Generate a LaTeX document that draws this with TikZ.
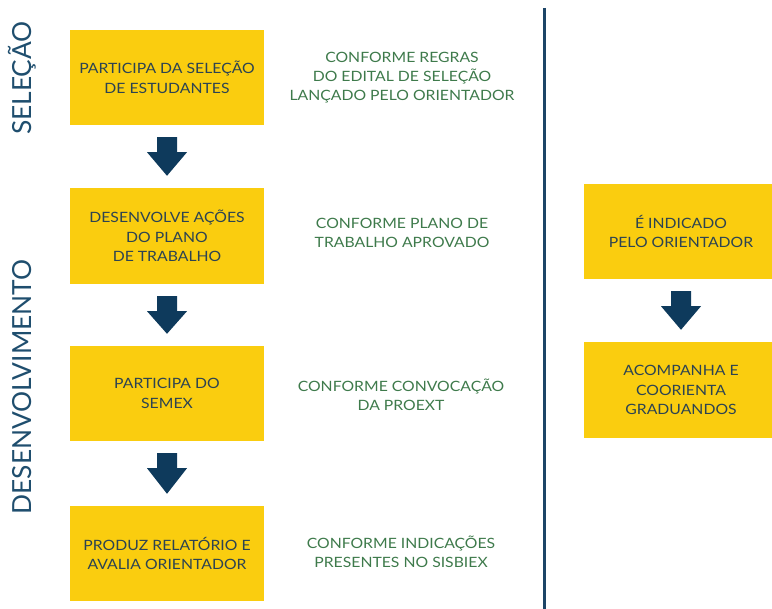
\documentclass[tikz,border=0pt]{standalone}
\usepackage{fontspec}
\setmainfont{Lato}[FakeStretch=1.11]
\newfontfamily\sidefont{Lato}
\usetikzlibrary{calc}
\definecolor{boxyellow}{HTML}{FACD0F}
\definecolor{boxtext}{HTML}{2C4352}
\definecolor{navy}{HTML}{0E3A5C}
\definecolor{linecol}{HTML}{1D4567}
\definecolor{greentext}{HTML}{3E7A4B}
\definecolor{sidecol}{HTML}{1F4E6E}
\tikzset{
  stepbox/.style={fill=boxyellow, draw=none, minimum width=194, minimum height=95,
    inner sep=0pt, align=center, text=boxtext, font=\fontsize{14.2}{19.5}\selectfont},
  note/.style={align=center, text=greentext, font=\fontsize{14.2}{19}\selectfont},
  side/.style={rotate=90, text=sidecol, font=\sidefont\fontsize{26.3}{26}\selectfont},
}
\newcommand\blockarrow[2]{%
  \fill[navy] ($(#1.south)+(-10,12)$) -- ($(#1.south)+(10,12)$) -- ($(#1.south)+(10,27)$)
    -- ($(#1.south)+(20,27)$) -- ($(#2.north)+(0,-12)$) -- ($(#1.south)+(-20,27)$)
    -- ($(#1.south)+(-10,27)$) -- cycle;}
\begin{document}
\begin{tikzpicture}[x=1pt,y=-1pt]
\useasboundingbox (0,0) rectangle (772,609);
% left column
\node[stepbox] (b1) at (167,77.5) {PARTICIPA DA SELEÇÃO\\DE ESTUDANTES};
\node[stepbox, minimum height=96] (b2) at (167,236) {DESENVOLVE AÇÕES\\DO PLANO\\DE TRABALHO};
\node[stepbox] (b3) at (167,393.5) {PARTICIPA DO\\SEMEX};
\node[stepbox] (b4) at (167,553.5) {PRODUZ RELATÓRIO E\\AVALIA ORIENTADOR};
\blockarrow{b1}{b2}
\blockarrow{b2}{b3}
\blockarrow{b3}{b4}
% notes
\node[note] (n1) at (402,78) {CONFORME REGRAS\\DO EDITAL DE SELEÇÃO\\LANÇADO PELO ORIENTADOR};
\node[note] (n2) at (402,233) {CONFORME PLANO DE\\TRABALHO APROVADO};
\node[note] (n3) at (401,395) {CONFORME CONVOCAÇÃO\\DA PROEXT};
\node[note] (n4) at (401,552) {CONFORME INDICAÇÕES\\PRESENTES NO SISBIEX};
% side labels
\node[side] (s1) at (22,78) {SELEÇÃO};
\node[side] (s2) at (22,387) {DESENVOLVIMENTO};
% divider
\coordinate (dtop) at (544.5,8);
\coordinate (dbot) at (544.5,609);
\draw[linecol, line width=2.5] (dtop) -- (dbot);
% right column
\node[stepbox] (r1) at (681,231.5) {É INDICADO\\PELO ORIENTADOR};
\node[stepbox, minimum height=96] (r2) at (681,390) {ACOMPANHA E\\COORIENTA\\GRADUANDOS};
\blockarrow{r1}{r2}
\end{tikzpicture}
\end{document}
